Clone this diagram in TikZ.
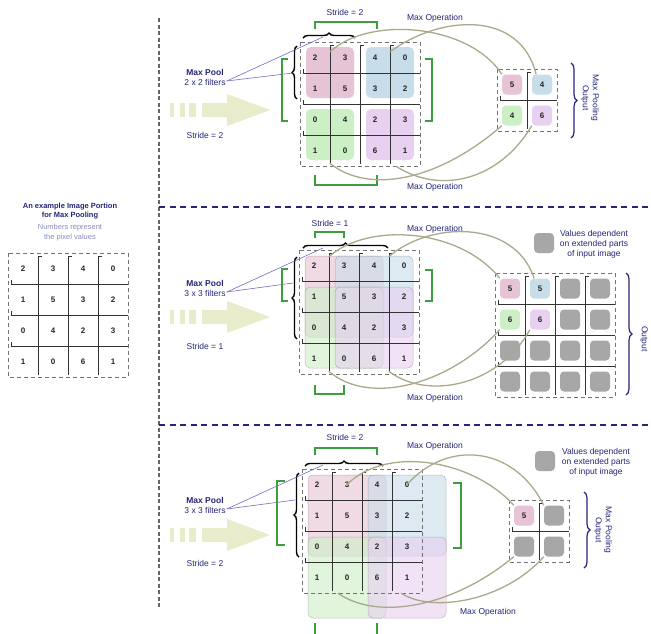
\documentclass[tikz,border=0pt]{standalone}
\usepackage{fontspec}
\setmainfont{Liberation Sans}
\usetikzlibrary{decorations.pathreplacing}

\definecolor{navy}{HTML}{25267A}
\definecolor{paleblue}{HTML}{8A8CC2}
\definecolor{pinkfill}{HTML}{E7C4D5}
\definecolor{bluefill}{HTML}{C7DDE9}
\definecolor{greenfill}{HTML}{CCEFC6}
\definecolor{purplefill}{HTML}{E8D0F1}
\definecolor{grayfill}{HTML}{A7A7A7}
\definecolor{linkcol}{HTML}{A9A98C}
\definecolor{arrowfill}{HTML}{E9ECCB}
\definecolor{stridegreen}{HTML}{3C9E3C}
\definecolor{pointer}{HTML}{6F6FC4}

\newcommand{\gridframe}[3]{%
  \pgfmathtruncatemacro\lastk{#3-1}
  \draw[frame] (#1,#2) rectangle ++(30*#3,31*#3);
  \foreach \k in {1,...,\lastk} {
    \draw[gridline] (#1+30*\k+4,#2+3) -- (#1+30*\k,#2+3) -- (#1+30*\k,#2+31*#3-2);
    \draw[gridline] (#1+3,#2+31*\k-4) -- (#1+3,#2+31*\k) -- (#1+30*#3,#2+31*\k);
  }
}
\newcommand{\inputgrid}[3]{%
  \foreach \row [count=\r] in {{2,3,4,0},{1,5,3,2},{0,4,2,3},{1,0,6,1}}
    \foreach \v [count=\c] in \row
      \node[cell] (#1-\r-\c) at (#2+30*\c-15,#3+31*\r-15.5) {\v};
  \gridframe{#2}{#3}{4}
}
\newcommand{\outputgrid}[5]{%
  \foreach \row [count=\r] in {#5}
    \foreach \fc/\v [count=\c] in \row
      \node[outcell, fill=\fc] (#1-\r-\c) at (#2+30*\c-15,#3+31*\r-15.5) {\v};
  \gridframe{#2}{#3}{#4}
}

\begin{document}
\begin{tikzpicture}[x=1pt, y=-1pt,
  cell/.style={minimum width=30pt, minimum height=31pt, inner sep=0pt,
    font=\fontsize{8}{9}\selectfont\bfseries, text=black!85},
  outcell/.style={minimum size=20pt, inner sep=0pt, rounded corners=4pt,
    font=\fontsize{8}{9}\selectfont\bfseries, text=black!85},
  frame/.style={draw=black!55, line width=1pt, dash pattern=on 4pt off 3pt},
  gridline/.style={draw=black!80, line width=0.7pt},
  blk/.style={rounded corners=5pt},
  ovl/.style={rounded corners=5pt, fill opacity=0.6, draw opacity=0.5, line width=0.5pt},
  link/.style={draw=linkcol, line width=1.3pt},
  bracket/.style={draw=stridegreen, line width=1.1pt},
  brace/.style={decorate, decoration={brace, amplitude=5pt}, line width=1.4pt},
  outbrace/.style={decorate, decoration={brace, amplitude=6pt}, draw=navy, line width=1.2pt},
  lbl/.style={text=navy, font=\fontsize{8.5}{10}\selectfont, align=center, inner sep=1pt},
  ptr/.style={draw=pointer, line width=0.6pt}]

\fill[white] (0,0) rectangle (651,633);
\useasboundingbox (0,0) rectangle (651,633);

\draw[draw=black!60, line width=2pt, dash pattern=on 4pt off 2.5pt] (159,18) -- (159,608);
\draw[draw=navy, line width=1.3pt, dash pattern=on 6pt off 4.5pt] (159,207) -- (651,207);
\draw[draw=navy, line width=1.3pt, dash pattern=on 6pt off 4.5pt] (159,425) -- (651,425);

\foreach \ay in {110,317,535} {
  \fill[arrowfill] (202,\ay-7) -- (227,\ay-7) -- (227,\ay-16) -- (270,\ay)
    -- (227,\ay+16) -- (227,\ay+7) -- (202,\ay+7) -- cycle;
  \fill[arrowfill] (170,\ay-7) rectangle (174,\ay+7);
  \fill[arrowfill] (180,\ay-7) rectangle (185,\ay+7);
  \fill[arrowfill] (189,\ay-7) rectangle (196,\ay+7);
}

% example image
\node[lbl, font=\fontsize{7.5}{9}\selectfont\bfseries] (l-title) at (70,211.5) {An example Image Portion\\for Max Pooling};
\node[lbl, text=paleblue, font=\fontsize{7.5}{10}\selectfont] (l-note) at (70,233) {Numbers represent\\the pixel values};
\inputgrid{l}{8}{253}

% 2 x 2, stride 2
\fill[blk, pinkfill] (306,47) rectangle (354,98);
\fill[blk, bluefill] (366,47) rectangle (414,98);
\fill[blk, greenfill] (306,109) rectangle (354,160);
\fill[blk, purplefill] (366,109) rectangle (414,160);
\inputgrid{t}{300}{42}
\outputgrid{to}{497}{69}{2}{{pinkfill/5,bluefill/4},{greenfill/4,purplefill/6}}

\draw[brace] (303,38) -- (355,38);
\draw[brace] (297,99) -- (297,46);
\coordinate (t-tip) at (323,37);
\coordinate (t-side) at (293,73);
\node[lbl] (t-pool) at (205,77) {\textbf{Max Pool}\\2 x 2 filters};
\draw[ptr] ([yshift=-4pt]t-pool.east) -- (t-tip);
\draw[ptr] ([yshift=-4pt]t-pool.east) -- (t-side);
\node[lbl] (t-stride) at (205,135) {Stride = 2};
\node[lbl] (t-step) at (345,12) {Stride = 2};
\draw[bracket] (315,29) -- (315,22) -- (377,22) -- (377,29);
\draw[bracket] (288,59) -- (282,59) -- (282,121) -- (288,121);
\draw[bracket] (425,59) -- (432,59) -- (432,121) -- (425,121);
\draw[bracket] (315,175) -- (315,185) -- (377,185) -- (377,175);
\node[lbl] (t-op1) at (435,18) {Max Operation};
\node[lbl] (t-op2) at (435,187) {Max Operation};

\draw[link] (t-1-2.160) .. controls +(40,-37) and +(-32,-50) .. (to-1-1.north west);
\draw[link] (t-1-4.160) .. controls +(50,-37) and +(-16,-65) .. (to-1-2.120);
\draw[link] (t-4-2.220) .. controls +(40,32) and +(-62,54) .. (to-2-1.south west);
\draw[link] (t-4-4.240) .. controls +(45,29) and +(-32,54) .. (to-2-2.south west);

\draw[outbrace] (571,63) -- (571,138);
\node[lbl, rotate=-90] (t-out) at (590,98) {Max Pooling\\Output};

% 3 x 3, stride 1
\filldraw[ovl, fill=pinkfill, draw=pinkfill!60!black] (305,256) rectangle (383,337);
\filldraw[ovl, fill=bluefill, draw=bluefill!60!black] (335,256) rectangle (413,337);
\filldraw[ovl, fill=greenfill, draw=greenfill!60!black] (305,287) rectangle (383,368);
\filldraw[ovl, fill=purplefill, draw=purplefill!60!black] (335,287) rectangle (413,368);
\inputgrid{m}{299}{250}
\outputgrid{mo}{495}{273}{4}{{pinkfill/5,bluefill/5,grayfill/{},grayfill/{}},{greenfill/6,purplefill/6,grayfill/{},grayfill/{}},{grayfill/{},grayfill/{},grayfill/{},grayfill/{}},{grayfill/{},grayfill/{},grayfill/{},grayfill/{}}}

\draw[brace] (303,248) -- (388,248);
\draw[brace] (297,339) -- (297,257);
\coordinate (m-tip) at (323,248);
\coordinate (m-side) at (293,283);
\node[lbl] (m-pool) at (205,288) {\textbf{Max Pool}\\3 x 3 filters};
\draw[ptr] ([yshift=-4pt]m-pool.east) -- (m-tip);
\draw[ptr] ([yshift=-4pt]m-pool.east) -- (m-side);
\node[lbl] (m-stride) at (205,346) {Stride = 1};
\node[lbl] (m-step) at (330,223) {Stride = 1};
\draw[bracket] (315,238) -- (315,232) -- (344,232) -- (344,238);
\draw[bracket] (288,269) -- (282,269) -- (282,301) -- (288,301);
\draw[bracket] (425,270) -- (432,270) -- (432,301) -- (425,301);
\draw[bracket] (315,385) -- (315,394) -- (344,394) -- (344,385);
\node[lbl] (m-op1) at (435,229) {Max Operation};
\node[lbl] (m-op2) at (435,398) {Max Operation};

\draw[link] (m-1-2.150) .. controls +(40,-35) and +(-40,-50) .. (mo-1-1.north west);
\draw[link] (m-1-4.150) .. controls +(40,-35) and +(-20,-60) .. (mo-1-2.120);
\draw[link] (m-4-2.220) .. controls +(40,35) and +(-50,55) .. (mo-2-1.south west);
\draw[link] (m-4-4.220) .. controls +(40,30) and +(-30,55) .. (mo-2-2.south west);

\node[outcell, fill=grayfill] (m-key) at (544,243) {};
\node[lbl] (m-keytext) at (594,244) {Values dependent\\on extended parts\\of input image};
\draw[outbrace] (626,273) -- (626,395);
\node[lbl, rotate=-90] (m-out) at (644,339) {Output};

% 3 x 3, stride 2
\filldraw[ovl, fill=pinkfill, draw=pinkfill!60!black] (308,475) rectangle (386,556);
\filldraw[ovl, fill=bluefill, draw=bluefill!60!black] (368,475) rectangle (446,556);
\filldraw[ovl, fill=greenfill, draw=greenfill!60!black] (308,537) rectangle (386,618);
\filldraw[ovl, fill=purplefill, draw=purplefill!60!black] (368,537) rectangle (446,618);
\inputgrid{b}{302}{469}
\outputgrid{bo}{509}{500}{2}{{pinkfill/5,grayfill/{}},{grayfill/{},grayfill/{}}}

\draw[brace] (305,466) -- (383,466);
\draw[brace] (299,557) -- (299,473);
\coordinate (b-tip) at (323,465);
\coordinate (b-side) at (295,500);
\node[lbl] (b-pool) at (205,505) {\textbf{Max Pool}\\3 x 3 filters};
\draw[ptr] ([yshift=-4pt]b-pool.east) -- (b-tip);
\draw[ptr] ([yshift=-4pt]b-pool.east) -- (b-side);
\node[lbl] (b-stride) at (205,563) {Stride = 2};
\node[lbl] (b-step) at (345,437) {Stride = 2};
\draw[bracket] (315,455) -- (315,448) -- (377,448) -- (377,455);
\draw[bracket] (285,481) -- (277,481) -- (277,545) -- (285,545);
\draw[bracket] (453,483) -- (461,483) -- (461,548) -- (453,548);
\draw[bracket] (315,623) -- (315,640) -- (377,640) -- (377,623);
\node[lbl] (b-op1) at (435,446) {Max Operation};
\node[lbl] (b-op2) at (488,612) {Max Operation};

\draw[link] (b-1-2.center) .. controls +(40,-40) and +(-40,-45) .. (bo-1-1.north west);
\draw[link] (b-1-4.center) .. controls +(40,-45) and +(-30,-60) .. (bo-1-2.north west);
\draw[link] (b-4-2.240) .. controls +(40,28) and +(-60,50) .. (bo-2-1.south west);
\draw[link] (b-4-4.250) .. controls +(30,20) and +(-40,45) .. (bo-2-2.south west);

\node[outcell, fill=grayfill] (b-key) at (545,461) {};
\node[lbl] (b-keytext) at (596,462) {Values dependent\\on extended parts\\of input image};
\draw[outbrace] (584,492) -- (584,568);
\node[lbl, rotate=-90] (b-out) at (603,530) {Max Pooling\\Output};

\end{tikzpicture}
\end{document}
